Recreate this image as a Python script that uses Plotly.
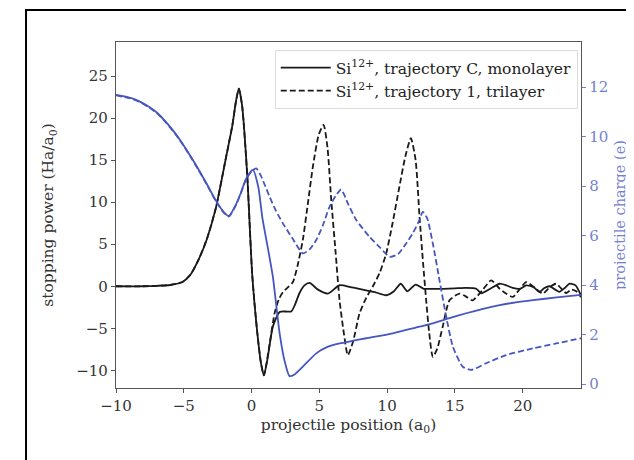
import plotly.graph_objects as go

# ---- data ----
# stopping power, trajectory C, monolayer (left axis)
x_mono = [-10, -8, -7, -6, -5.1, -4.5, -3.9, -3.3, -2.65, -1.9, -1.42, -1.15, -0.94, -0.7, -0.32,
          0.05, 0.42, 0.7, 0.91, 1.2, 1.57, 2.07, 2.5, 2.93, 3.2, 3.54, 3.9, 4.28, 4.9, 5.63,
          6.49, 7.3, 8.2, 9.1, 9.93, 10.5, 11.0, 11.5, 12.1, 12.7, 13.5, 14.1, 15.0, 15.8,
          16.57, 16.94, 17.6, 18.3, 18.8, 19.27, 19.8, 20.26, 20.8, 21.24, 21.6, 21.98, 22.4,
          22.7, 23.1, 23.45, 23.9, 24.3]
sp_mono = [0, 0, 0.05, 0.15, 0.5, 1.4, 3.2, 5.6, 9.2, 15.2, 19.1, 22.0, 23.5, 21.5, 13.2,
           1.3, -5.5, -9.2, -10.6, -8.4, -4.8, -3.06, -3.0, -3.0, -2.2, -0.8, 0.1, 0.4, -0.4, -0.87,
           0.12, -0.1, -0.4, -0.7, -1.07, -0.6, 0.3, -0.6, 0.2, -0.3, -0.3, -0.3, -0.25, -0.2,
           -0.3, -0.83, -0.3, 0.3, 0.1, -0.2, -0.3, 0.1, -0.1, -0.67, -0.2, 0.0, -0.4,
           -0.67, -0.2, 0.3, 0.1, -1.1]

# stopping power, trajectory 1, trilayer (left axis)
x_tri = [-10, -8, -7, -6, -5.1, -4.5, -3.9, -3.3, -2.65, -1.9, -1.42, -1.15, -0.94, -0.7, -0.32,
         0.05, 0.42, 0.7, 0.91, 1.3, 1.7, 2.0, 2.31, 2.7, 3.05, 3.4, 3.78, 4.15, 4.52, 4.95, 5.31,
         5.6, 5.88, 6.2, 6.49, 6.8, 7.1, 7.5, 7.96, 8.45, 8.95, 9.45, 9.93, 10.4, 10.9, 11.35,
         11.75, 12.1, 12.39, 12.65, 12.88, 13.1, 13.37, 13.7, 14.1, 14.6, 15.34, 15.8, 16.3,
         17.06, 17.67, 18.3, 18.8, 19.27, 19.8, 20.26, 20.9, 21.48, 22.0, 22.47, 22.8, 23.2,
         23.6, 23.95, 24.3]
sp_tri = [0, 0, 0.05, 0.15, 0.5, 1.4, 3.2, 5.6, 9.2, 15.2, 19.1, 22.0, 23.5, 21.5, 13.2,
          1.3, -5.5, -9.2, -10.6, -7.2, -3.2, -1.6, -0.7, -0.1, 0.5, 2.5, 5.5, 9.8, 14.2, 18.0, 19.2,
          16.5, 10.2, 4.0, -1.67, -5.5, -8.2, -6.5, -3.25, -1.4, 0.0, 1.6, 3.9, 7.5, 11.8, 15.5,
          17.6, 15.0, 8.25, 2.8, -1.67, -5.5, -8.4, -7.4, -4.8, -1.67, -0.87, -1.2, -1.67,
          -0.4, 0.7, -0.3, -0.9, -1.27, -0.3, 0.5, -0.2, -0.87, -0.1, 0.3, -0.2, -0.8,
          -0.4, -0.6, -1.3]

# projectile charge, monolayer (right axis)
x_q_mono = [-10, -9.4, -8.8, -8.2, -7.57, -6.95, -6.34, -5.7, -5.1, -4.5, -3.89, -3.25, -2.65,
            -2.1, -1.67, -1.2, -0.81, -0.4, 0.1, 0.5, 0.8, 1.2, 1.57, 2.07, 2.45, 2.8, 3.2,
            3.78, 4.77, 5.6, 6.49, 7.5, 8.46, 10.42, 12.39, 13.37, 14.6, 15.83, 17.0, 18.3,
            19.5, 20.76, 22.5, 24.3]
q_mono = [11.68, 11.62, 11.54, 11.4, 11.2, 10.95, 10.6, 10.18, 9.72, 9.2, 8.65, 8.03, 7.43,
          6.98, 6.79, 7.2, 7.7, 8.3, 8.65, 7.95, 6.7, 5.5, 4.34, 2.05, 0.9, 0.32, 0.4,
          0.7, 1.24, 1.5, 1.64, 1.75, 1.85, 2.05, 2.32, 2.45, 2.66, 2.86, 3.03, 3.19,
          3.3, 3.39, 3.5, 3.6]

# projectile charge, trilayer (right axis)
x_q_tri = [-10, -9.4, -8.8, -8.2, -7.57, -6.95, -6.34, -5.7, -5.1, -4.5, -3.89, -3.25, -2.65,
           -2.1, -1.67, -1.2, -0.81, -0.4, 0.05, 0.35, 0.7, 1.03, 1.33, 1.8, 2.31, 3.0, 3.78,
           4.3, 4.77, 5.25, 5.75, 6.2, 6.61, 7.1, 7.72, 8.7, 9.5, 10.18, 10.8, 11.4, 11.9,
           12.39, 12.63, 12.95, 13.37, 13.86, 14.36, 14.85, 15.58, 16.2, 17.3, 18.78, 20.75,
           22.47, 24.3]
q_tri = [11.66, 11.6, 11.52, 11.38, 11.18, 10.93, 10.58, 10.16, 9.7, 9.18, 8.63, 8.01, 7.41,
         6.96, 6.77, 7.18, 7.68, 8.28, 8.62, 8.71, 8.4, 7.97, 7.57, 7.0, 6.49, 5.9, 5.28,
         5.45, 5.82, 6.4, 7.16, 7.6, 7.86, 7.3, 6.63, 5.95, 5.5, 5.14, 5.25, 5.68, 6.1,
         6.63, 6.96, 6.7, 5.68, 4.2, 2.72, 1.51, 0.7, 0.57, 0.84, 1.17, 1.44,
         1.64, 1.85]

legend_mono = "Si<sup>12+</sup>, trajectory C, monolayer"
legend_tri = "Si<sup>12+</sup>, trajectory 1, trilayer"

x_ticks = [-10, -5, 0, 5, 10, 15, 20]
y_ticks = [-10, -5, 0, 5, 10, 15, 20, 25]
y2_ticks = [0, 2, 4, 6, 8, 10, 12]

BLACK = "#1a1a1a"
BLUE = "#4656c0"
BLUE_TXT = "#7381d0"
FONT = "DejaVu Serif"

fig = go.Figure()

fig.add_trace(go.Scatter(x=x_q_mono, y=q_mono, yaxis="y2", mode="lines",
                         line=dict(color=BLUE, width=1.8, shape="spline", smoothing=0.6),
                         showlegend=False, hoverinfo="skip"))
fig.add_trace(go.Scatter(x=x_q_tri, y=q_tri, yaxis="y2", mode="lines",
                         line=dict(color=BLUE, width=1.8, dash="6px,3px", shape="spline", smoothing=0.6),
                         showlegend=False, hoverinfo="skip"))
fig.add_trace(go.Scatter(x=x_tri, y=sp_tri, mode="lines", name=legend_tri,
                         line=dict(color=BLACK, width=1.8, dash="6px,3px", shape="spline", smoothing=0.6)))
fig.add_trace(go.Scatter(x=x_mono, y=sp_mono, mode="lines", name=legend_mono,
                         line=dict(color=BLACK, width=1.8, shape="spline", smoothing=0.6)))

axis_common = dict(showgrid=False, zeroline=False, ticks="outside", ticklen=4,
                   showline=True, linecolor="#555555", linewidth=1.3, automargin=False)

fig.update_layout(
    width=626, height=452,
    margin=dict(l=108, r=53, t=34, b=72),
    paper_bgcolor="white", plot_bgcolor="white",
    font=dict(family=FONT, size=15, color="#333333"),
    xaxis=dict(range=[-10, 24.3], tickvals=x_ticks, tickcolor="#555555",
               tickfont=dict(size=15),
               title=dict(text="projectile position (a<sub>0</sub>)", standoff=4,
                          font=dict(size=15.5)),
               mirror=True, **axis_common),
    yaxis=dict(range=[-12.1, 29.05], tickvals=y_ticks, tickcolor="#555555",
               tickfont=dict(size=15),
               title=dict(text="stopping power (Ha/a<sub>0</sub>)", standoff=18,
                          font=dict(size=15.5)),
               mirror=True, **axis_common),
    yaxis2=dict(range=[-0.16, 13.82], tickvals=y2_ticks, overlaying="y", side="right",
                tickcolor=BLUE_TXT, tickfont=dict(color=BLUE_TXT, size=15),
                title=dict(text="projectile charge (e)", font=dict(color=BLUE_TXT, size=14.5),
                           standoff=7),
                showgrid=False, zeroline=False, ticks="outside", ticklen=4,
                showline=True, linecolor="#555555", linewidth=1.3, automargin=False),
    legend=dict(x=0.993, y=0.977, xanchor="right", yanchor="top", itemwidth=50,
                bgcolor="rgba(255,255,255,0.85)", bordercolor="#dddddd", borderwidth=1,
                traceorder="reversed", font=dict(size=15.5, color="#222222")),
    shapes=[dict(type="rect", xref="paper", yref="paper",
                 x0=-0.1935, x1=1.2, y0=-0.3, y1=1.0925,
                 line=dict(color="black", width=2), layer="below")],
)

fig.write_html("out.html")
